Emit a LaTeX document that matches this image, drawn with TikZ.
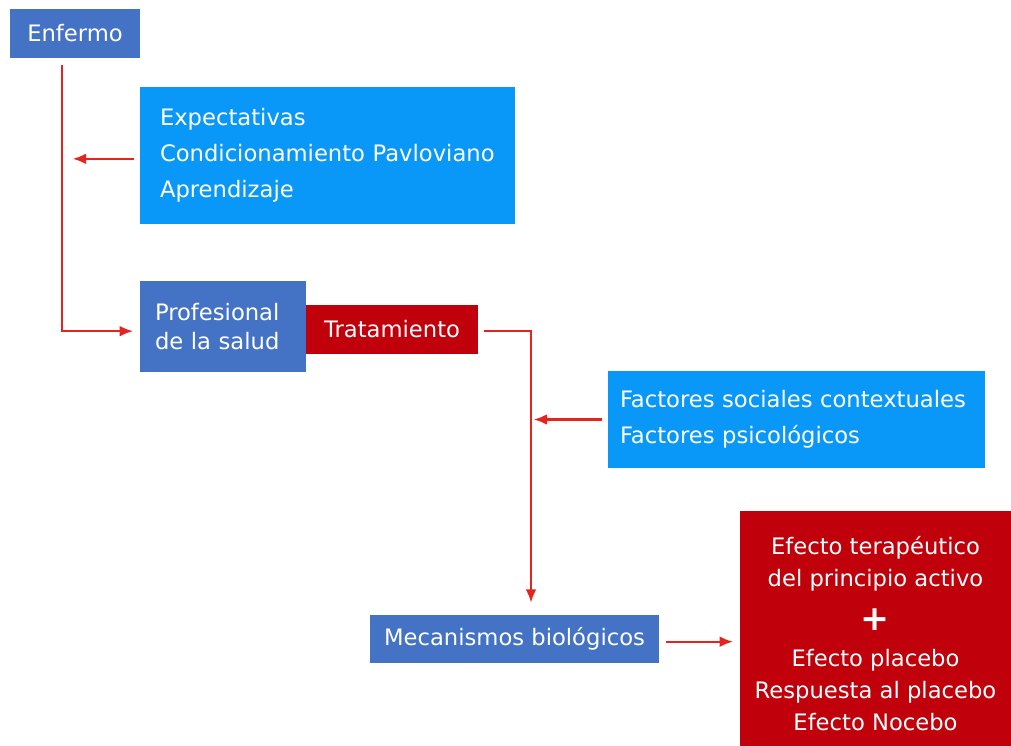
\documentclass[tikz,border=0pt]{standalone}
\usepackage{fontspec}
\setmainfont{DejaVu Sans}
\usepackage{xcolor}
\usepackage{tikz}
\usetikzlibrary{calc,arrows.meta}
\definecolor{dblue}{HTML}{4472C4}
\definecolor{lblue}{HTML}{0A98F8}
\definecolor{dred}{HTML}{C0000A}
\definecolor{flowred}{HTML}{E5231F}
\tikzset{
  box/.style={inner sep=0pt, text=white, font=\fontsize{17}{27}\selectfont},
  dark/.style={box, fill=dblue},
  light/.style={box, fill=lblue, align=left},
  redbox/.style={box, fill=dred, align=center},
  flow/.style={draw=flowred, line width=1.7pt, line join=miter, -{Latex[length=10pt,width=8pt]}},
}

\begin{document}
\begin{tikzpicture}[x=0.75pt,y=-0.75pt]
  \useasboundingbox (0,0) rectangle (1011,746);

  \node[dark, minimum width=130*0.75pt, minimum height=49*0.75pt] (enf) at (75,33.5) {Enfermo};
  \node[light, minimum height=137*0.75pt, text width=335*0.75pt, inner xsep=20*0.75pt] (expect) at (327.5,155.5)
    {Expectativas\\Condicionamiento Pavloviano\\Aprendizaje};
  \node[dark, align=left, font=\fontsize{17}{22}\selectfont, minimum height=91*0.75pt, text width=136*0.75pt, inner xsep=15*0.75pt] (prof) at (223,326.5)
    {Profesional\\de la salud};
  \node[box, fill=dred, minimum width=172*0.75pt, minimum height=49*0.75pt] (trat) at (392,329.5) {Tratamiento};
  \node[light, minimum height=97*0.75pt, text width=353*0.75pt, inner xsep=12*0.75pt] (fact) at (796.5,419.5)
    {Factores sociales contextuales\\Factores psicológicos};
  \node[dark, minimum width=289*0.75pt, minimum height=48*0.75pt] (meca) at (514.5,639) {Mecanismos biológicos};
  % lower edge runs past the page on purpose
  \node[redbox, font=\fontsize{17}{24}\selectfont, minimum width=271*0.75pt, minimum height=246*0.75pt] (efecto) at (875.5,634)
    {Efecto terapéutico\\del principio activo\\[9pt]{\fontsize{26}{26}\selectfont\bfseries +}\\[3pt]Efecto placebo\\Respuesta al placebo\\Efecto Nocebo};

  % enfermo -> profesional
  \coordinate (e1) at (62,65);
  \draw[flow, shorten >=5pt] (e1) |- ([yshift=-3.5pt]prof.west);
  \draw[flow, shorten <=4pt, shorten >=8pt] ([yshift=-2.5pt]expect.west) -- ([yshift=-2.5pt]expect.west -| e1);

  % tratamiento -> mecanismos
  \coordinate (t1) at (531,331);
  \draw[flow, shorten <=4pt, shorten >=9pt] (trat.east |- t1) -- (t1) -- (t1 |- meca.north);
  \draw[flow, shorten <=4pt, shorten >=2pt] (fact.west) -- (fact.west -| t1);

  % mecanismos -> efecto
  \draw[flow, shorten <=5pt, shorten >=5pt] ([yshift=-2pt]meca.east) -- ([yshift=-2pt]meca.east -| efecto.west);
\end{tikzpicture}
\end{document}
